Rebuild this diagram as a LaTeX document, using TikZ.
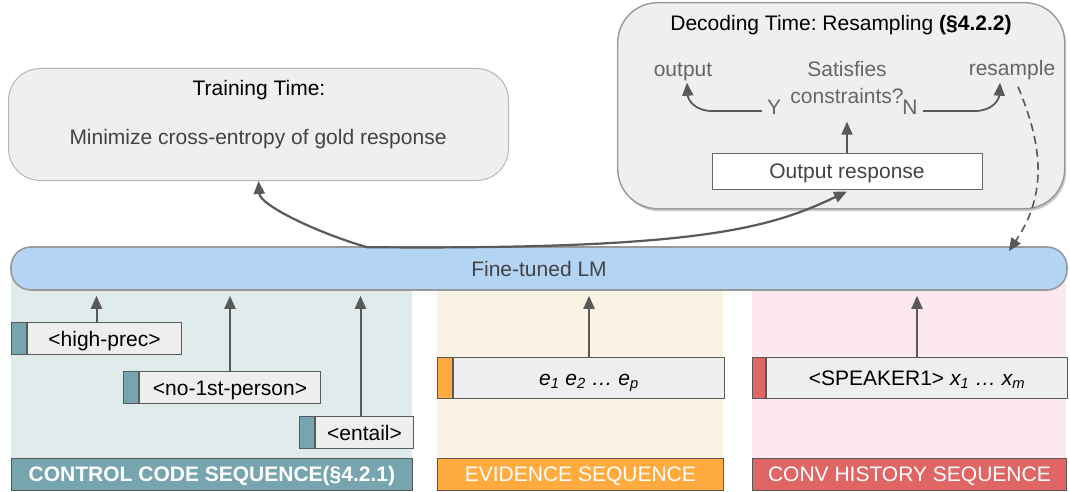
\documentclass[tikz,border=0pt]{standalone}
\usepackage{fontspec}
\setmainfont{Liberation Sans}
\usetikzlibrary{arrows.meta,shadows,positioning}
\frenchspacing

\definecolor{boxfill}{HTML}{EFEFEF}
\definecolor{boxline}{HTML}{B7B7B7}
\definecolor{decline}{HTML}{999999}
\definecolor{lmfill}{HTML}{B4D4F4}
\definecolor{arrowgrey}{HTML}{595959}
\definecolor{textgrey}{HTML}{434343}
\definecolor{softgrey}{HTML}{666666}
\definecolor{chipline}{HTML}{595959}
\definecolor{chipfill}{HTML}{EEEEEE}
\definecolor{ctrlbg}{HTML}{E0EBEC}
\definecolor{ctrlcol}{HTML}{76A5AF}
\definecolor{evibg}{HTML}{FAF3E3}
\definecolor{evicol}{HTML}{FFAB40}
\definecolor{convbg}{HTML}{FCE8EE}
\definecolor{convcol}{HTML}{E06666}

\begin{document}
\frenchspacing
\begin{tikzpicture}[%
        x=1pt, y=-1pt,
        every node/.style={font=\fontsize{21}{25}\selectfont, inner sep=0pt,
            text height=15pt, text depth=0pt},
        roundbox/.style={draw=boxline, fill=boxfill, line width=1pt, anchor=north west},
        chipstrip/.style={draw=chipline, line width=1pt, minimum width=15pt,
            minimum height=32pt, anchor=north west},
        chipbody/.style={draw=chipline, fill=chipfill, line width=1pt, minimum height=32pt},
        seqlabel/.style={draw=chipline, line width=0.8pt, minimum height=32pt,
            text=white, anchor=north west},
        uparrow/.style={draw=arrowgrey, line width=2pt, shorten >=5pt,
            -{Triangle[length=13pt,width=11pt]}},
        curvearrow/.style={draw=arrowgrey, line width=2.2pt,
            -{Triangle[length=13pt,width=11pt]}}
    ]
    \useasboundingbox (0,0) rectangle (1070,492);

    % coloured sequence areas
    \fill [ctrlbg] (11,270) rectangle (412,458);
    \fill [evibg]  (437,270) rectangle (723,458);
    \fill [convbg] (752,270) rectangle (1066,458);

    % training and decoding boxes
    \node [roundbox, rounded corners=32pt, minimum width=500pt, minimum height=112pt]
        (train) at (8,68) {};
    \node (trainTitle) at (259,88) {Training Time:};
    \node [text=textgrey] (trainText) at (258,137) {Minimize cross-entropy of gold response};

    \node [roundbox, draw=decline, line width=1.4pt, rounded corners=40pt,
           minimum width=447pt, minimum height=206pt,
           drop shadow={shadow xshift=1.5pt, shadow yshift=-2.5pt, opacity=0.35, fill=black!60}]
        (decode) at (617,2) {};
    \node (decTitle) at (841,23) {Decoding Time: Resampling \textbf{(§4.2.2)}};
    \node [text=softgrey] (outLbl) at (683,69) {output};
    \node [text=softgrey, align=center] (satLbl) at (847,96) {Satisfies\\[2pt]constraints?};
    \node [text=softgrey] (resLbl) at (1012,68) {resample};
    \node [text=softgrey] (yLbl) at (774,107) {Y};
    \node [text=softgrey] (nLbl) at (910,107) {N};
    \node [draw=softgrey, fill=white, line width=1pt, minimum width=270pt,
           minimum height=36pt, text=textgrey]
        (resp) at (847,171) {Output response};

    % language model
    \node [draw=decline, fill=lmfill, line width=1.6pt, rounded corners=20pt,
           minimum width=1056pt, minimum height=43pt, text=textgrey]
        (lm) at (539,268.5) {Fine-tuned LM};

    % control codes
    \node [chipstrip, fill=ctrlcol] (hpS) at (11,322) {};
    \node [chipbody, minimum width=154pt, right=0pt of hpS] (hp) {<high-prec>};
    \node [chipstrip, fill=ctrlcol] (npS) at (123,371) {};
    \node [chipbody, minimum width=181pt, right=0pt of npS] (np) {<no-1st-person>};
    \node [chipstrip, fill=ctrlcol] (enS) at (299,416) {};
    \node [chipbody, minimum width=98pt, right=0pt of enS] (en) {<entail>};

    % evidence and history
    \node [chipstrip, fill=evicol, minimum height=41pt] (evS) at (437,357) {};
    \node [chipbody, minimum width=271pt, minimum height=41pt, right=0pt of evS]
        (ev) {\itshape e\textsubscript{1} e\textsubscript{2} … e\textsubscript{p}};
    \node [chipstrip, fill=convcol, minimum width=13pt, minimum height=41pt] (cvS) at (752,357) {};
    \node [chipbody, minimum width=301pt, minimum height=41pt, right=0pt of cvS]
        (cv) {<SPEAKER1> \itshape x\textsubscript{1} … x\textsubscript{m}};

    % sequence labels
    \node [seqlabel, fill=ctrlcol, minimum width=401pt,
           font=\fontsize{21}{25}\selectfont\bfseries]
        (ctrlLabel) at (11,458) {CONTROL CODE SEQUENCE(§4.2.1)};
    \node [seqlabel, fill=evicol, minimum width=286pt] (eviLabel) at (437,458) {EVIDENCE SEQUENCE};
    \node [seqlabel, fill=convcol, minimum width=314pt] (convLabel) at (752,458) {CONV HISTORY SEQUENCE};

    % inputs into the LM
    \draw [uparrow] ([xshift=-8pt]hp.north) -- ([xshift=-8pt]hp.north |- lm.south);
    \draw [uparrow] (np.north) -- (np.north |- lm.south);
    \draw [uparrow] ([xshift=-4pt]en.north) -- ([xshift=-4pt]en.north |- lm.south);
    \draw [uparrow] (ev.north) -- (ev.north |- lm.south);
    \draw [uparrow] (cv.north) -- (cv.north |- lm.south);

    % LM outputs
    \coordinate (split) at ([xshift=-172pt, yshift=-1pt]lm.north);
    \draw [curvearrow] (split) .. controls (315,232) and (260,205) .. (train.south);
    \draw [curvearrow] (split) .. controls (700,250) and (770,228) .. ([yshift=-2pt]resp.south);

    % resampling loop
    \draw [uparrow, shorten >=18pt] (resp.north) -- (satLbl.south);
    \coordinate (yBend) at (712,111);
    \coordinate (nBend) at (975,111);
    \draw [curvearrow, line width=1.8pt] ([shift={(-5pt,-4pt)}]yLbl.west) -- (yBend)
        .. controls (695,111) and (688,100) .. ([shift={(4pt,-6pt)}]outLbl.south);
    \draw [curvearrow, line width=1.8pt] ([shift={(5pt,-4pt)}]nLbl.east) -- (nBend)
        .. controls (992,111) and (999,100) .. ([shift={(-12pt,-7pt)}]resLbl.south);
    \draw [curvearrow, line width=1.6pt, dash pattern=on 8pt off 5pt]
        ([shift={(6pt,-11pt)}]resLbl.south) .. controls (1040,140) and (1050,190)
        .. ([shift={(-59pt,-5pt)}]lm.north east);
\end{tikzpicture}
\end{document}
